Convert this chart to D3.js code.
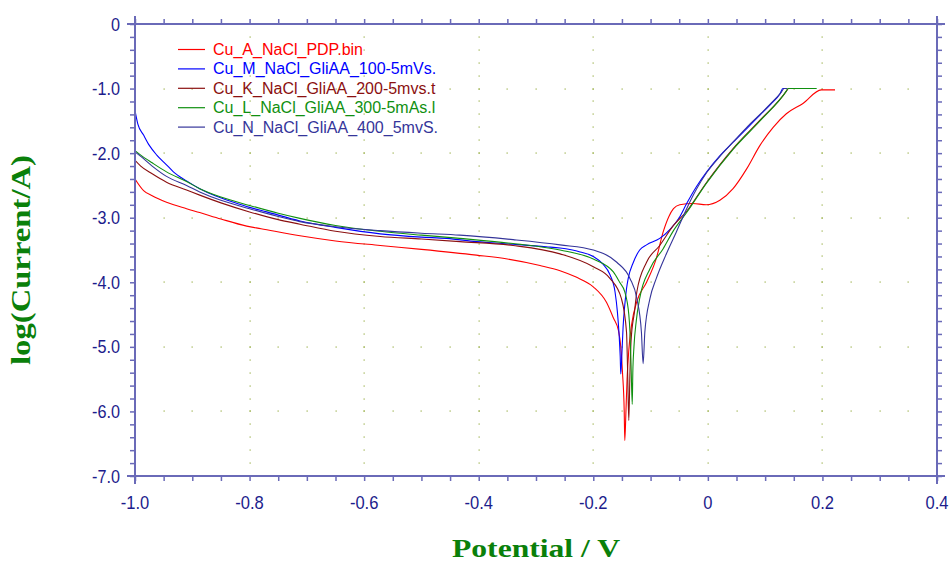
<!DOCTYPE html>
<html><head><meta charset="utf-8">
<script src="https://cdn.jsdelivr.net/npm/d3@7"></script>
<style>html,body{margin:0;padding:0;background:#fff;}svg{display:block;}</style>
</head><body>
<svg id="chart" width="950" height="564"></svg>
<script>
// ---- data: [potential V, log(current/A)] ----
const seriesNames = ["Cu_A_NaCl_PDP.bin","Cu_M_NaCl_GliAA_100-5mVs.","Cu_K_NaCl_GliAA_200-5mvs.t","Cu_L_NaCl_GliAA_300-5mAs.l","Cu_N_NaCl_GliAA_400_5mvS."];
const seriesColors = ["#ff0000","#0000ff","#8b1010","#109010","#35359a"];

const cuA = [[-1.0,-2.40],[-0.985,-2.58],[-0.97,-2.66],[-0.945,-2.76],[-0.91,-2.86],[-0.887,-2.92],[-0.85,-3.02],[-0.805,-3.13],[-0.78,-3.17],[-0.712,-3.28],[-0.65,-3.36],[-0.572,-3.43],[-0.50,-3.49],[-0.404,-3.58],[-0.35,-3.64],[-0.293,-3.74],[-0.258,-3.82],[-0.23,-3.92],[-0.20,-4.07],[-0.177,-4.31],[-0.165,-4.55],[-0.156,-4.75],[-0.152,-5.0],[-0.149,-5.4],[-0.146,-6.0],[-0.145,-6.45],[-0.143,-6.0],[-0.141,-5.5],[-0.138,-5.05],[-0.133,-4.65],[-0.124,-4.3],[-0.107,-4.0],[-0.090,-3.63],[-0.078,-3.22],[-0.068,-2.98],[-0.060,-2.86],[-0.049,-2.80],[-0.026,-2.78],[-0.003,-2.80],[0.021,-2.73],[0.044,-2.55],[0.068,-2.24],[0.091,-1.88],[0.114,-1.60],[0.137,-1.39],[0.166,-1.23],[0.198,-1.02],[0.222,-1.02]];
const cuM = [[-1.0,-1.34],[-0.995,-1.55],[-0.985,-1.72],[-0.975,-1.88],[-0.962,-2.03],[-0.945,-2.18],[-0.933,-2.29],[-0.91,-2.43],[-0.887,-2.55],[-0.86,-2.66],[-0.828,-2.76],[-0.80,-2.84],[-0.77,-2.91],[-0.712,-3.05],[-0.65,-3.15],[-0.572,-3.25],[-0.50,-3.30],[-0.456,-3.32],[-0.404,-3.37],[-0.34,-3.41],[-0.282,-3.45],[-0.258,-3.47],[-0.223,-3.53],[-0.20,-3.60],[-0.183,-3.72],[-0.171,-3.88],[-0.162,-4.15],[-0.158,-4.45],[-0.155,-4.8],[-0.153,-5.15],[-0.152,-5.42],[-0.150,-5.1],[-0.148,-4.7],[-0.145,-4.35],[-0.142,-4.1],[-0.139,-3.94],[-0.130,-3.69],[-0.119,-3.50],[-0.107,-3.42],[-0.084,-3.32],[-0.066,-3.18],[-0.050,-3.0],[-0.037,-2.78],[-0.020,-2.52],[-0.002,-2.29],[0.020,-2.05],[0.044,-1.83],[0.070,-1.60],[0.091,-1.41],[0.110,-1.24],[0.126,-1.08],[0.131,-1.0],[0.138,-1.0]];
const cuK = [[-1.0,-2.11],[-0.99,-2.20],[-0.97,-2.32],[-0.945,-2.45],[-0.91,-2.57],[-0.887,-2.65],[-0.85,-2.77],[-0.80,-2.91],[-0.75,-3.03],[-0.712,-3.10],[-0.65,-3.21],[-0.572,-3.29],[-0.50,-3.33],[-0.433,-3.37],[-0.34,-3.43],[-0.258,-3.56],[-0.20,-3.76],[-0.171,-3.94],[-0.151,-4.25],[-0.142,-4.77],[-0.140,-5.4],[-0.138,-6.14],[-0.136,-5.4],[-0.134,-4.9],[-0.128,-4.45],[-0.124,-4.15],[-0.107,-3.69],[-0.084,-3.43],[-0.060,-3.12],[-0.037,-2.90],[-0.002,-2.45],[0.044,-1.93],[0.091,-1.49],[0.137,-1.04],[0.140,-1.0]];
const cuL = [[-1.0,-1.96],[-0.99,-2.03],[-0.97,-2.15],[-0.945,-2.29],[-0.91,-2.44],[-0.887,-2.55],[-0.85,-2.68],[-0.80,-2.81],[-0.75,-2.93],[-0.712,-3.01],[-0.65,-3.12],[-0.572,-3.21],[-0.50,-3.27],[-0.433,-3.32],[-0.34,-3.40],[-0.258,-3.50],[-0.20,-3.64],[-0.165,-3.84],[-0.154,-4.0],[-0.145,-4.15],[-0.138,-4.5],[-0.136,-4.77],[-0.134,-5.3],[-0.132,-5.89],[-0.131,-5.4],[-0.129,-5.0],[-0.125,-4.6],[-0.119,-4.25],[-0.101,-3.79],[-0.078,-3.48],[-0.060,-3.2],[-0.037,-2.92],[-0.002,-2.46],[0.044,-1.94],[0.091,-1.50],[0.137,-1.04],[0.140,-1.0],[0.190,-1.0]];
const cuN = [[-1.0,-1.98],[-0.99,-2.05],[-0.97,-2.20],[-0.945,-2.36],[-0.91,-2.50],[-0.887,-2.60],[-0.85,-2.73],[-0.80,-2.86],[-0.75,-2.98],[-0.712,-3.06],[-0.65,-3.14],[-0.572,-3.20],[-0.50,-3.24],[-0.433,-3.27],[-0.34,-3.34],[-0.258,-3.42],[-0.20,-3.50],[-0.159,-3.69],[-0.136,-3.94],[-0.124,-4.25],[-0.116,-4.77],[-0.113,-5.26],[-0.110,-4.77],[-0.101,-4.25],[-0.090,-3.94],[-0.072,-3.55],[-0.055,-3.22],[-0.037,-2.86],[-0.020,-2.56],[-0.002,-2.30],[0.020,-2.06],[0.044,-1.83],[0.070,-1.58],[0.091,-1.40],[0.110,-1.23],[0.128,-1.06],[0.133,-1.0],[0.138,-1.0]];
const seriesData = [cuA, cuM, cuK, cuL, cuN];

const xMajorTicks = [-1.0,-0.8,-0.6,-0.4,-0.2,0,0.2,0.4];
const xTickLabels = ["-1.0","-0.8","-0.6","-0.4","-0.2","0","0.2","0.4"];
const yMajorTicks = [0,-1,-2,-3,-4,-5,-6,-7];
const yTickLabels = ["0","-1.0","-2.0","-3.0","-4.0","-5.0","-6.0","-7.0"];
const xLabel = "Potential / V";
const yLabel = "log(Current/A)";

// ---- layout ----
const L = 135, R = 937, T = 24, B = 476;
const x = d3.scaleLinear().domain([-1.0, 0.4]).range([L, R]);
const y = d3.scaleLinear().domain([0, -7]).range([T, B]);
const svg = d3.select("#chart");
const axisColor = "#6a6ab8";
const labelColor = "#1c1c8c";

const xMinor = d3.range(0, 29).map(i => -1.0 + i * 0.05);
const yMinor = d3.range(0, 36).map(i => -i * 0.2);

// grid dots
const gridColor = "#9aae4a";
const dots = [];
xMajorTicks.slice(1, -1).forEach(xv => yMinor.forEach(yv => { if (yv < -0.01 && yv > -6.99) dots.push([xv, yv]); }));
yMajorTicks.slice(1, -1).forEach(yv => xMinor.forEach(xv => { if (xv > -0.99 && xv < 0.39) dots.push([xv, yv]); }));
svg.append("g").selectAll("rect").data(dots).join("rect")
  .attr("x", d => Math.round(x(d[0])) - 0.5).attr("y", d => Math.round(y(d[1])) - 0.5)
  .attr("width", 1.3).attr("height", 1.1).attr("fill", gridColor);

// clip
svg.append("clipPath").attr("id", "clip").append("rect")
  .attr("x", L).attr("y", T).attr("width", R - L).attr("height", B - T);

// curves
const line = d3.line().x(d => x(d[0])).y(d => y(d[1])).curve(d3.curveMonotoneX);
svg.append("g").attr("clip-path", "url(#clip)").selectAll("path").data(seriesData).join("path")
  .attr("d", line).attr("fill", "none")
  .attr("stroke", (d, i) => seriesColors[i]).attr("stroke-width", 1.1);

// axes ticks
const tk = g => g.call(s => s.select(".domain").remove()).selectAll("line").attr("stroke", axisColor).attr("stroke-width", 1.5);
svg.append("g").attr("transform", `translate(${L},0)`).call(d3.axisLeft(y).tickValues(yMinor).tickSize(5).tickFormat("")).call(tk);
svg.append("g").attr("transform", `translate(${R},0)`).call(d3.axisRight(y).tickValues(yMinor).tickSize(5).tickFormat("")).call(tk);
svg.append("g").attr("transform", `translate(0,${B})`).call(d3.axisBottom(x).tickValues(xMinor).tickSize(5).tickFormat("")).call(tk);
svg.append("g").attr("transform", `translate(0,${T})`).call(d3.axisTop(x).tickValues(xMinor).tickSize(5).tickFormat("")).call(tk);

// frame lines (extend past corners)
const ext = 8;
const frame = svg.append("g").attr("stroke", axisColor).attr("stroke-width", 2);
frame.append("line").attr("x1", L - ext).attr("x2", R + ext).attr("y1", T).attr("y2", T);
frame.append("line").attr("x1", L - ext).attr("x2", R + ext).attr("y1", B).attr("y2", B);
frame.append("line").attr("x1", L).attr("x2", L).attr("y1", T - ext).attr("y2", B + ext);
frame.append("line").attr("x1", R).attr("x2", R).attr("y1", T - ext).attr("y2", B + ext);

// tick labels
const lblFont = "'Liberation Sans', Arial, sans-serif";
svg.append("g").selectAll("text").data(yMajorTicks).join("text")
  .attr("transform", d => `translate(${L - 15},${y(d) + 6.5}) scale(0.9,1)`)
  .attr("text-anchor", "end").attr("font-family", lblFont).attr("font-size", 18)
  .attr("fill", labelColor).text((d, i) => yTickLabels[i]);
svg.append("g").selectAll("text").data(xMajorTicks).join("text")
  .attr("transform", d => `translate(${x(d)},${B + 33}) scale(0.92,1)`)
  .attr("text-anchor", "middle").attr("font-family", lblFont).attr("font-size", 18)
  .attr("fill", labelColor).text((d, i) => xTickLabels[i]);

// axis titles
svg.append("text").attr("transform", "translate(30,260) rotate(-90)")
  .attr("text-anchor", "middle").attr("font-family", "'Liberation Serif','Times New Roman',serif")
  .attr("font-weight", "bold").attr("font-size", 27).attr("fill", "#0a800a")
  .attr("textLength", 210).attr("lengthAdjust", "spacingAndGlyphs").text(yLabel);
svg.append("text").attr("x", 536).attr("y", 557)
  .attr("text-anchor", "middle").attr("font-family", "'Liberation Serif','Times New Roman',serif")
  .attr("font-weight", "bold").attr("font-size", 26).attr("fill", "#0a800a")
  .attr("textLength", 168).attr("lengthAdjust", "spacingAndGlyphs").text(xLabel);

// legend
const lg = svg.append("g").selectAll("g").data(seriesNames).join("g")
  .attr("transform", (d, i) => `translate(178,${49.5 + i * 19.4})`);
lg.append("line").attr("x1", 0).attr("x2", 27).attr("y1", 0).attr("y2", 0)
  .attr("stroke", (d, i) => seriesColors[i]).attr("stroke-width", 1.2);
lg.append("text").attr("x", 35).attr("y", 5.5)
  .attr("font-family", lblFont).attr("font-size", 16)
  .attr("fill", (d, i) => seriesColors[i]).text(d => d);
</script>
</body></html>
